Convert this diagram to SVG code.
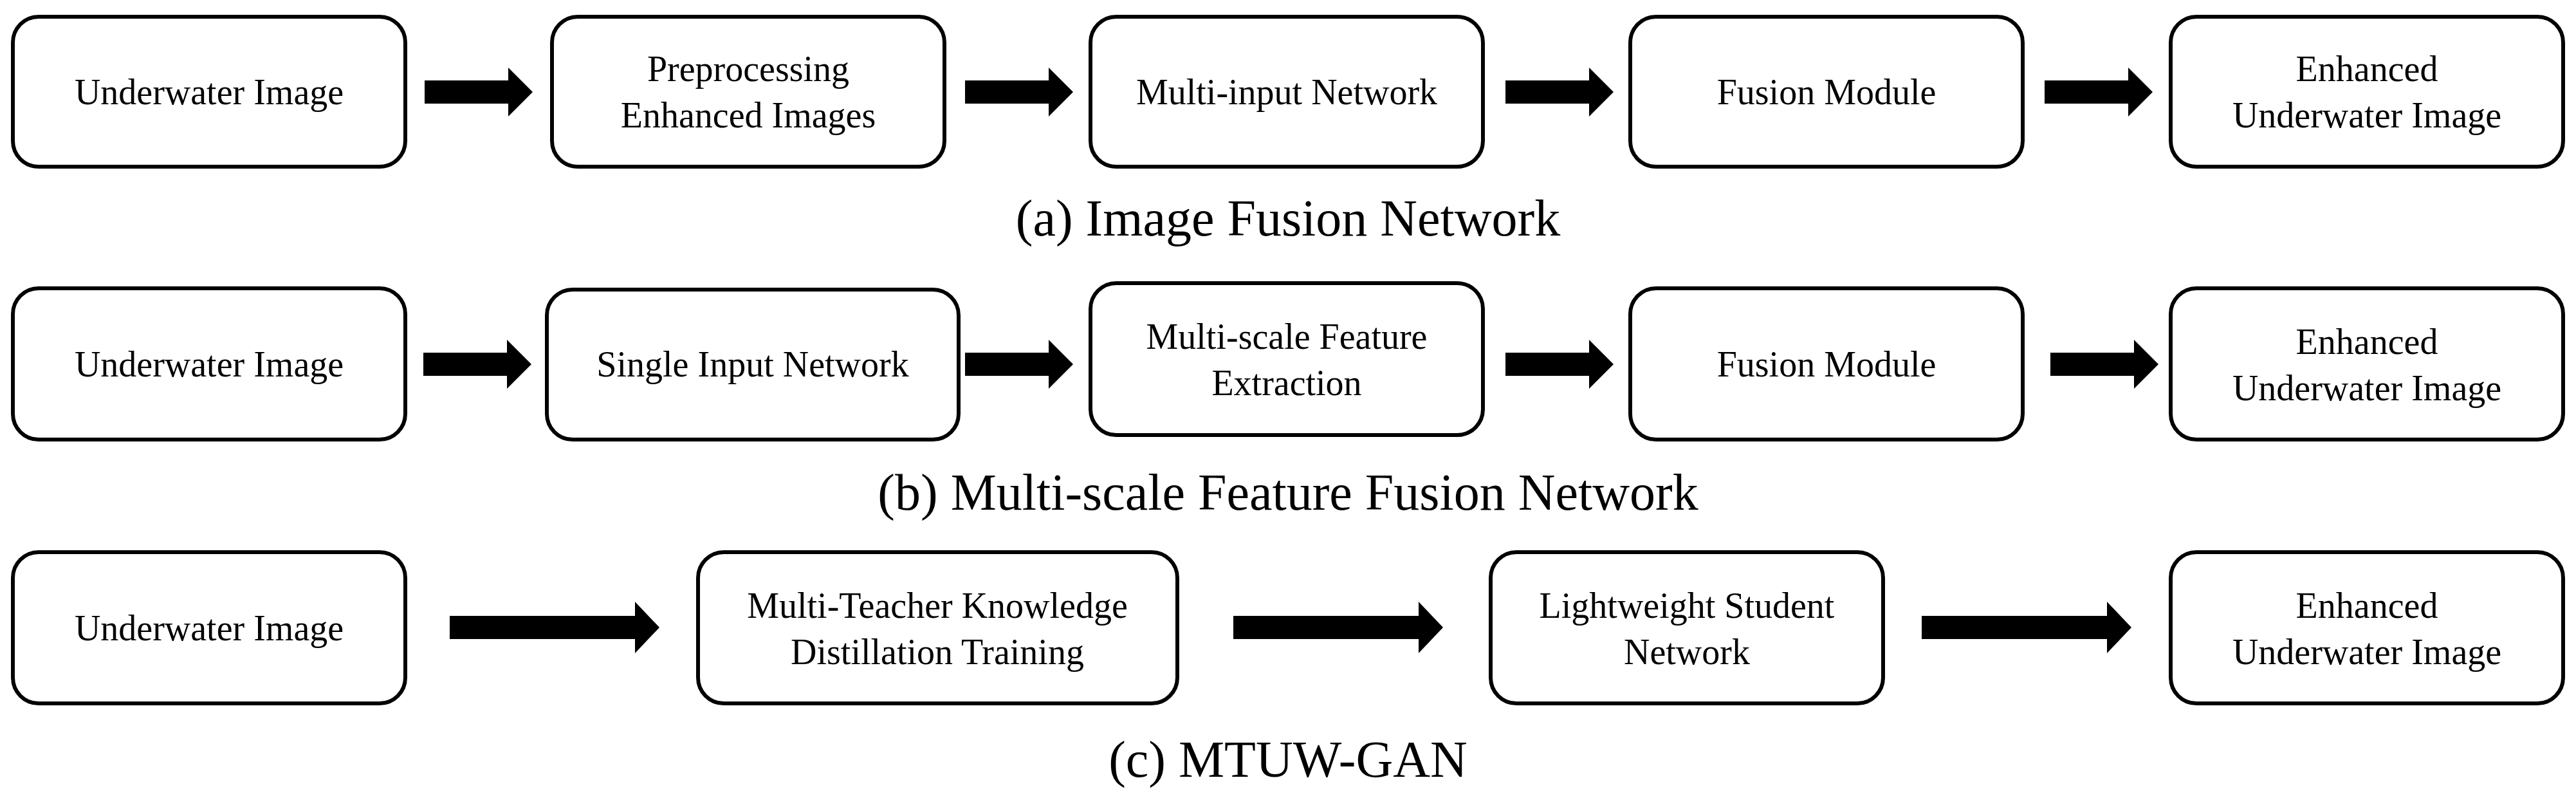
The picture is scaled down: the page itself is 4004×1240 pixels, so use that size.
<svg xmlns="http://www.w3.org/2000/svg" width="4004" height="1240" viewBox="0 0 4004 1240">
<style>
rect.n{fill:#fff;stroke:#000;stroke-width:6}
text{font-family:'Liberation Serif',Tinos,'Times New Roman','DejaVu Serif',serif;fill:#000;text-anchor:middle}
.t{font-size:56px}
.c{font-size:80px}
</style>
<defs>
<polygon id="a" points="0,-18 130,-18 130,-38 168,0 130,38 130,18 0,18"/>
<polygon id="al" points="0,-18 288,-18 288,-40 326,0 288,40 288,18 0,18"/>
</defs>
<rect width="4004" height="1240" fill="#fff"/>
<g id="n_a1"><rect class="n" x="20" y="26" width="610" height="233" rx="40"/><text class="t" x="325" y="162">Underwater Image</text></g>
<g id="n_a2"><rect class="n" x="858" y="26" width="610" height="233" rx="40"/><text class="t" x="1163" y="126">Preprocessing</text><text class="t" x="1163" y="198">Enhanced Images</text></g>
<g id="n_a3"><rect class="n" x="1695" y="26" width="610" height="233" rx="40"/><text class="t" x="2000" y="162">Multi-input Network</text></g>
<g id="n_a4"><rect class="n" x="2534" y="26" width="610" height="233" rx="40"/><text class="t" x="2839" y="162">Fusion Module</text></g>
<g id="n_a5"><rect class="n" x="3374" y="26" width="610" height="233" rx="40"/><text class="t" x="3679" y="126">Enhanced</text><text class="t" x="3679" y="198">Underwater Image</text></g>
<text class="c" x="2002" y="366">(a) Image Fusion Network</text>
<g id="n_b1"><rect class="n" x="20" y="448" width="610" height="235" rx="40"/><text class="t" x="325" y="585">Underwater Image</text></g>
<g id="n_b2"><rect class="n" x="850" y="450" width="640" height="233" rx="40"/><text class="t" x="1170" y="585">Single Input Network</text></g>
<g id="n_b3"><rect class="n" x="1695" y="440" width="610" height="236" rx="40"/><text class="t" x="2000" y="542">Multi-scale Feature</text><text class="t" x="2000" y="614">Extraction</text></g>
<g id="n_b4"><rect class="n" x="2534" y="448" width="610" height="235" rx="40"/><text class="t" x="2839" y="585">Fusion Module</text></g>
<g id="n_b5"><rect class="n" x="3374" y="448" width="610" height="235" rx="40"/><text class="t" x="3679" y="550">Enhanced</text><text class="t" x="3679" y="622">Underwater Image</text></g>
<text class="c" x="2002" y="792">(b) Multi-scale Feature Fusion Network</text>
<g id="n_c1"><rect class="n" x="20" y="858" width="610" height="235" rx="40"/><text class="t" x="325" y="995">Underwater Image</text></g>
<g id="n_c2"><rect class="n" x="1085" y="858" width="745" height="235" rx="40"/><text class="t" x="1457" y="960">Multi-Teacher Knowledge</text><text class="t" x="1457" y="1032">Distillation Training</text></g>
<g id="n_c3"><rect class="n" x="2317" y="858" width="610" height="235" rx="40"/><text class="t" x="2622" y="960">Lightweight Student</text><text class="t" x="2622" y="1032">Network</text></g>
<g id="n_c4"><rect class="n" x="3374" y="858" width="610" height="235" rx="40"/><text class="t" x="3679" y="960">Enhanced</text><text class="t" x="3679" y="1032">Underwater Image</text></g>
<text class="c" x="2002" y="1207">(c) MTUW-GAN</text>
<g id="connectors">
<use href="#a" x="660" y="143"/><use href="#a" x="1500" y="143"/><use href="#a" x="2340" y="143"/><use href="#a" x="3178" y="143"/>
<use href="#a" x="658" y="566"/><use href="#a" x="1500" y="566"/><use href="#a" x="2340" y="566"/><use href="#a" x="3187" y="566"/>
<use href="#al" x="699" y="975"/><use href="#al" x="1917" y="975"/><use href="#al" x="2987" y="975"/>
</g>
</svg>
